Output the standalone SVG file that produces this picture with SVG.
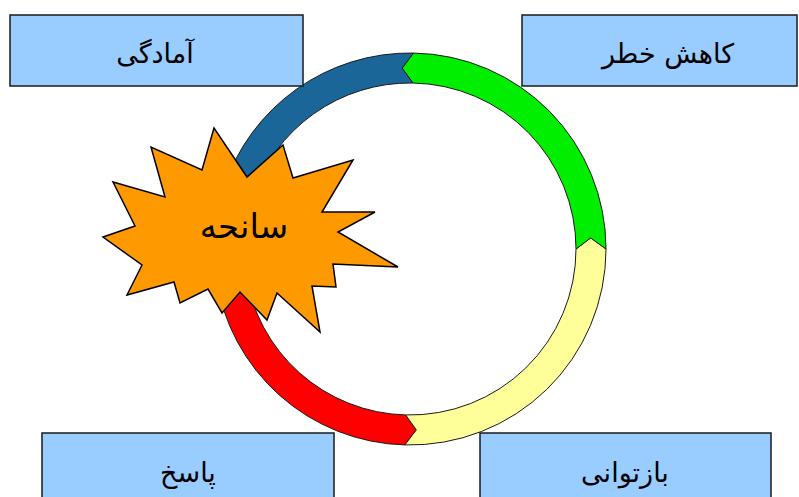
<svg xmlns="http://www.w3.org/2000/svg" width="799" height="497" viewBox="0 0 799 497">
<style>
.box{fill:#99CCFF;stroke:#1a1a1a;stroke-width:1.5}
.lbl{font-family:"DejaVu Sans","Noto Sans",sans-serif;font-size:27px;fill:#000;text-anchor:middle}
.seg{stroke:#1a1a1a;stroke-width:1;stroke-linejoin:round}
</style>
<rect width="799" height="497" fill="#fff"/>
<g id="connectors">
<path id="seg-red" class="seg" fill="#FF0000" stroke="none" d="M215.9,276.3 A196,196 0 0 0 404.87,444.93 L416.32,429.89 L405.65,414.94 A166,166 0 0 1 245.6,272.1 L232.6,285.1 Z"/>
<path id="seg-yellow" class="seg" fill="#FFFF99" d="M404.87,444.93 A196,196 0 0 0 606,249 L590.66,237.95 L576,249 A166,166 0 0 1 405.65,414.94 L416.32,429.89 Z"/>
<path id="seg-green" class="seg" fill="#00EE00" d="M606,249 A196,196 0 0 0 413.42,53.03 L402.10,68.17 L412.90,83.03 A166,166 0 0 1 576,249 L590.66,237.95 Z"/>
<path id="seg-blue" class="seg" fill="#1A6699" stroke="#174f78" d="M413.42,53.03 A196,196 0 0 0 223.59,188.43 L234.76,203.68 L252.12,197.70 A166,166 0 0 1 412.90,83.03 L402.10,68.17 Z"/>
</g>
<g id="node-sanehe">
<polygon fill="#FF9900" stroke="#000" stroke-width="1.5" stroke-linejoin="miter" points="103,237 135,226 113,182 165,197 151,147 202,170 214,128 247,177 283,145 293,178 353,160 322,212 375,212 338,232 398,267 333,264 336,287 312,286 320,332 277,293 267,320 240,292 222,313 208,289 180,303 174,282 127,295 142,265"/>
<text x="244" y="238" style="font-family:'DejaVu Sans','Noto Sans',sans-serif;font-size:34px;text-anchor:middle;fill:#000">سانحه</text>
</g>
<g id="node-amadegi">
<rect class="box" x="10" y="15" width="293" height="71"/>
<text class="lbl" x="155" y="63">آمادگی</text>
</g>
<g id="node-kahesh">
<rect class="box" x="522" y="15" width="275" height="71"/>
<text class="lbl" x="668" y="63">کاهش خطر</text>
</g>
<g id="node-pasokh">
<rect class="box" x="42" y="433" width="292" height="70"/>
<text class="lbl" x="188" y="482">پاسخ</text>
</g>
<g id="node-baztavani">
<rect class="box" x="480" y="433" width="291" height="70"/>
<text class="lbl" x="625" y="482">بازتوانی</text>
</g>
</svg>
